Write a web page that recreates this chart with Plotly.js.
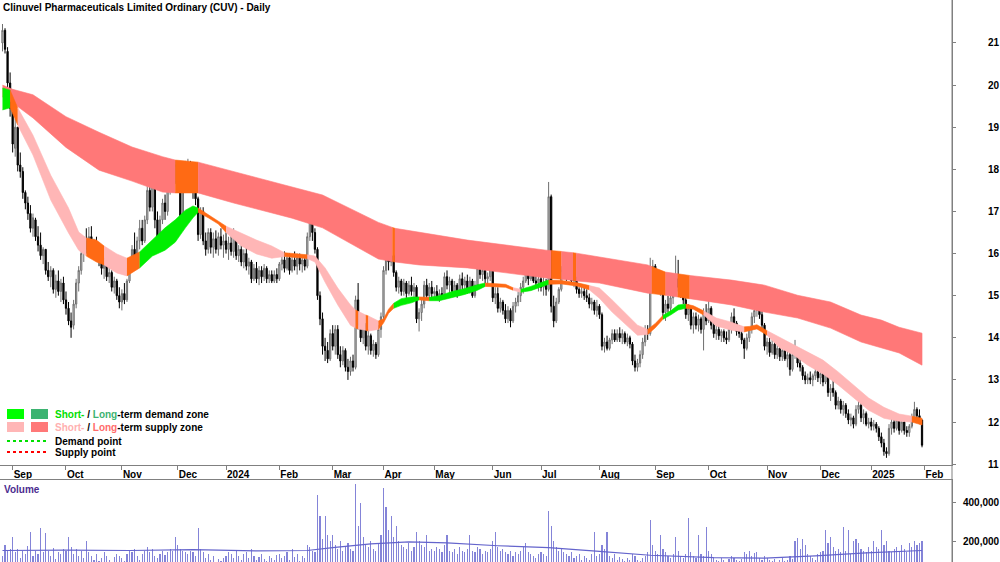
<!DOCTYPE html>
<html><head><meta charset="utf-8">
<script src="https://cdn.plot.ly/plotly-3.0.1.min.js"></script>
<style>html,body{margin:0;padding:0;background:#fff}#chart{width:1000px;height:562px}</style>
</head><body><div id="chart"></div>
<script>
// trading days per month (Aug 2023 partial ... Jan 2025)
const monthDays = [4,21,22,22,19,21,21,20,20,23,19,23,22,21,23,21,20,21];
const monthLabels = ['Sep','Oct','Nov','Dec','2024','Feb','Mar','Apr','May','Jun','Jul','Aug','Sep','Oct','Nov','Dec','2025','Feb'];

const open = [
21.00,21.30,20.80,20.05,
19.45,18.50,19.00,18.10,17.95,17.45,17.20,16.95,16.60,16.80,16.40,16.20,15.95,16.10,15.60,15.45,15.60,15.15,15.35,15.10,15.30,
14.90,14.70,14.40,14.30,14.80,15.30,15.60,16.00,16.30,16.10,16.40,16.10,16.20,16.00,15.85,15.65,15.75,15.45,15.55,15.20,15.35,15.00,
14.85,15.05,14.90,15.35,15.70,16.10,15.90,16.30,16.60,16.30,16.80,17.50,17.10,17.60,16.80,16.40,16.80,17.20,17.00,17.50,17.90,17.70,
18.10,17.80,16.90,17.80,18.05,18.15,17.80,17.45,17.30,16.45,17.00,16.30,16.10,16.50,16.15,16.35,16.10,16.40,16.20,
16.30,16.10,16.25,16.05,16.45,15.95,16.10,15.80,16.00,15.70,15.80,15.40,15.65,15.40,15.60,15.45,15.65,15.40,15.50,15.35,15.50,
15.40,15.75,15.85,15.65,15.90,15.60,15.85,15.70,15.90,15.75,15.85,15.70,16.40,16.80,16.50,16.10,15.00,14.45,13.80,13.70,13.50,
14.10,13.80,14.20,13.60,13.45,13.70,13.30,13.20,13.45,13.30,14.90,14.30,14.00,14.30,13.80,14.05,13.70,13.85,13.60,14.20,
14.50,15.60,16.10,15.80,15.95,15.55,15.20,15.35,15.10,15.30,15.05,15.25,15.10,15.20,14.45,14.60,14.80,15.25,15.00,15.20,
15.05,15.10,14.95,15.05,15.00,15.45,15.25,15.35,15.10,15.25,15.05,15.40,15.25,15.35,15.15,15.35,15.00,15.25,15.65,15.50,15.60,15.40,15.45,
15.80,14.95,15.05,14.70,14.85,14.65,14.45,14.65,14.40,14.75,14.85,15.00,15.20,15.35,15.55,15.40,15.60,15.35,15.30,
15.40,15.20,15.30,15.15,17.35,14.75,14.40,14.85,15.15,15.60,15.75,15.45,15.60,15.35,15.40,15.15,15.05,15.10,15.00,14.95,14.80,14.85,14.65,
14.75,14.55,13.80,13.90,13.75,13.95,14.10,13.95,14.10,14.00,14.10,13.90,14.00,13.85,13.45,13.30,13.40,13.60,13.90,14.20,14.10,15.60,
15.70,15.30,15.15,15.20,14.60,14.80,14.70,14.95,15.10,15.40,15.20,15.10,14.90,14.55,14.70,14.30,14.50,14.30,14.45,14.20,14.60,
14.40,14.70,14.30,14.10,14.20,14.05,14.15,14.00,13.95,14.20,14.50,14.35,14.15,14.10,13.95,13.75,14.00,14.20,14.50,14.65,14.80,14.55,14.30,
13.80,13.90,13.65,13.85,13.60,13.75,13.55,13.70,13.50,13.60,13.25,13.60,13.70,13.40,13.30,13.10,13.00,13.05,13.00,13.10,13.20,
13.05,13.15,12.95,13.20,12.70,12.80,12.70,12.40,12.50,12.30,12.40,12.20,12.05,12.10,11.95,12.30,12.40,12.10,12.20,11.95,
12.00,11.90,11.95,11.85,11.65,11.50,11.30,11.25,11.85,12.00,11.85,12.05,11.80,12.00,11.80,11.75,11.90,12.10,12.30,12.15,12.05];

const high = [
21.45,21.35,20.90,20.30,
19.60,19.20,19.00,18.40,18.05,17.50,17.35,17.15,16.95,16.85,16.65,16.50,16.15,16.10,15.80,15.70,15.65,15.50,15.60,15.40,15.45,
15.10,14.85,14.60,14.90,15.40,15.70,16.10,16.40,16.60,16.63,16.65,16.35,16.40,16.20,16.00,15.90,15.85,15.70,15.60,15.45,15.40,15.20,
15.15,15.30,15.40,15.80,16.20,16.50,16.40,16.80,16.80,16.90,17.60,17.70,17.95,17.70,17.00,16.90,17.30,17.40,17.60,18.00,18.15,18.20,
18.20,18.00,17.90,18.20,18.25,18.20,18.00,17.70,17.35,17.10,17.10,16.50,16.60,16.60,16.50,16.55,16.50,16.60,16.45,
16.50,16.40,16.45,16.60,16.50,16.20,16.20,16.10,16.15,15.90,15.85,15.75,15.80,15.70,15.70,15.75,15.70,15.60,15.60,15.60,15.65,
15.80,16.00,16.05,16.00,16.00,15.95,16.05,16.00,16.00,15.95,15.95,16.50,17.20,16.90,16.60,16.15,15.10,14.60,14.00,13.90,14.20,
14.30,14.30,14.30,13.80,13.80,13.75,13.50,13.55,13.60,15.00,15.30,14.50,14.40,14.35,14.20,14.10,13.95,13.90,14.30,14.60,
15.70,16.45,16.20,16.10,16.00,15.60,15.45,15.40,15.40,15.35,15.35,15.45,15.30,15.25,14.70,14.90,15.35,15.40,15.30,15.35,
15.20,15.25,15.15,15.20,15.55,15.60,15.45,15.40,15.35,15.30,15.50,15.55,15.45,15.50,15.45,15.40,15.35,15.75,15.90,15.70,15.65,15.55,15.90,
15.85,15.20,15.20,14.95,14.90,14.80,14.75,14.70,14.85,14.95,15.10,15.30,15.45,16.00,15.75,15.70,15.65,15.50,15.45,
15.50,15.45,15.40,17.70,17.40,15.00,14.95,15.20,15.70,15.90,15.80,15.75,15.65,15.55,15.45,15.20,15.25,15.25,15.15,15.05,14.95,14.90,14.90,
14.80,14.60,14.00,14.05,14.00,14.20,14.20,14.20,14.25,14.20,14.15,14.10,14.05,13.90,13.60,13.50,13.70,14.00,14.30,14.30,15.90,15.85,
15.75,15.40,15.30,15.25,14.90,15.00,15.10,15.20,15.95,15.85,15.30,15.20,15.00,14.80,14.75,14.60,14.60,14.55,14.50,14.70,14.80,
15.00,14.75,14.40,14.30,14.30,14.20,14.20,14.15,14.30,14.60,14.70,14.40,14.30,14.20,14.00,14.10,14.25,14.60,14.75,14.85,14.85,14.70,14.35,
14.00,14.00,13.95,13.90,13.85,13.85,13.75,13.80,13.70,13.65,13.75,13.95,13.75,13.60,13.35,13.20,13.15,13.20,13.15,13.40,13.30,
13.25,13.20,13.35,13.25,12.90,13.00,12.75,12.60,12.55,12.50,12.45,12.30,12.20,12.15,12.40,12.50,12.50,12.30,12.25,12.10,
12.10,12.05,12.00,11.90,11.75,11.60,11.40,11.95,12.10,12.10,12.15,12.15,12.10,12.05,11.90,11.95,12.20,12.48,12.35,12.30,12.05];

const low = [
20.80,20.75,19.95,19.25,
18.40,18.30,17.95,17.80,17.30,17.05,16.80,16.50,16.40,16.30,16.05,15.85,15.75,15.50,15.35,15.20,15.05,14.95,15.00,14.85,14.80,
14.55,14.30,14.00,14.20,14.70,15.10,15.50,15.80,16.00,15.95,16.00,15.85,15.90,15.70,15.50,15.40,15.35,15.30,15.10,15.05,14.90,14.70,
14.65,14.80,14.85,15.30,15.60,15.80,15.80,16.10,16.20,16.25,16.70,17.00,17.00,16.60,16.20,16.30,16.70,16.80,16.90,17.40,17.60,17.65,
17.70,16.80,16.85,17.60,17.80,17.70,17.30,17.15,16.30,16.35,16.20,15.95,16.00,16.00,15.90,16.00,15.95,16.10,15.90,
16.00,15.85,15.95,15.90,15.85,15.80,15.70,15.65,15.60,15.50,15.30,15.35,15.30,15.25,15.30,15.35,15.30,15.30,15.30,15.30,15.30,
15.35,15.60,15.55,15.60,15.50,15.55,15.60,15.50,15.60,15.55,15.60,15.65,16.30,16.30,16.00,14.90,14.30,13.60,13.45,13.40,13.45,
13.70,13.60,13.50,13.30,13.35,13.20,13.00,13.10,13.20,13.25,14.20,13.90,13.85,13.70,13.60,13.60,13.55,13.50,13.55,14.00,
14.45,15.50,15.60,15.70,15.45,15.10,15.05,15.00,15.00,14.95,15.00,15.00,14.95,14.35,14.15,14.40,14.70,14.90,14.90,14.95,
14.90,14.90,14.85,14.90,14.95,15.15,15.05,15.00,15.00,14.95,15.00,15.15,15.10,15.05,15.05,14.95,14.95,15.20,15.40,15.35,15.30,15.25,15.35,
14.85,14.80,14.60,14.60,14.55,14.35,14.35,14.25,14.35,14.60,14.75,14.85,15.05,15.30,15.25,15.35,15.30,15.20,15.10,
15.10,15.00,15.00,15.10,14.60,14.25,14.35,14.80,15.10,15.45,15.35,15.40,15.30,15.20,15.05,14.95,14.95,14.90,14.85,14.70,14.65,14.55,14.50,
14.45,13.70,13.65,13.70,13.70,13.85,13.90,13.90,13.90,13.85,13.85,13.80,13.75,13.35,13.20,13.20,13.30,13.50,13.80,13.95,14.05,15.20,
15.20,15.05,15.00,14.45,14.40,14.60,14.60,14.80,15.00,15.10,14.95,14.80,14.45,14.40,14.20,14.10,14.20,14.15,14.10,13.70,14.30,
14.35,14.20,14.00,13.95,13.95,13.90,13.90,13.85,13.90,14.10,14.25,14.05,14.00,13.85,13.50,13.70,13.90,14.10,14.35,14.50,14.45,14.20,13.70,
13.60,13.55,13.60,13.50,13.50,13.45,13.45,13.45,13.30,13.10,13.20,13.50,13.30,13.20,13.00,12.90,12.90,12.90,12.85,13.00,12.95,
12.90,12.85,12.90,12.60,12.50,12.60,12.30,12.30,12.20,12.15,12.10,11.95,11.90,11.85,11.90,12.20,12.00,11.95,11.90,11.85,
11.80,11.80,11.75,11.55,11.40,11.20,11.15,11.20,11.70,11.75,11.80,11.70,11.75,11.70,11.65,11.65,11.85,12.00,12.05,11.95,11.40];

const close = [
21.30,20.85,20.05,19.45,
18.60,19.00,18.10,17.95,17.45,17.20,16.95,16.60,16.85,16.40,16.20,15.95,16.10,15.60,15.45,15.60,15.15,15.35,15.10,15.30,14.90,
14.70,14.40,14.25,14.80,15.30,15.60,16.00,16.30,16.10,16.40,16.10,16.20,16.00,15.85,15.65,15.75,15.45,15.55,15.20,15.35,15.00,14.85,
15.05,14.90,15.35,15.70,16.10,15.90,16.30,16.60,16.30,16.80,17.50,17.10,17.60,16.80,16.40,16.80,17.20,17.00,17.50,17.90,17.70,18.10,
17.80,16.90,17.80,18.05,18.15,17.80,17.45,17.30,16.45,17.00,16.30,16.10,16.50,16.15,16.35,16.10,16.40,16.20,16.30,
16.10,16.25,16.05,16.45,15.95,16.10,15.80,16.00,15.70,15.80,15.40,15.65,15.40,15.60,15.45,15.65,15.40,15.50,15.35,15.50,15.40,
15.75,15.85,15.65,15.90,15.60,15.85,15.70,15.90,15.75,15.85,15.70,16.40,16.80,16.50,16.10,15.00,14.45,13.80,13.70,13.50,14.10,
13.80,14.20,13.60,13.45,13.70,13.30,13.20,13.45,13.30,14.90,14.30,14.00,14.30,13.80,14.05,13.70,13.85,13.60,14.20,14.50,
15.60,16.10,15.80,15.95,15.55,15.20,15.35,15.10,15.30,15.05,15.25,15.10,15.20,14.45,14.60,14.80,15.25,15.00,15.20,15.05,
15.10,14.95,15.05,15.00,15.45,15.25,15.35,15.10,15.25,15.05,15.40,15.25,15.35,15.15,15.35,15.00,15.25,15.65,15.50,15.60,15.40,15.45,15.80,
14.95,15.05,14.70,14.85,14.65,14.45,14.65,14.40,14.75,14.85,15.00,15.20,15.35,15.55,15.40,15.60,15.35,15.30,15.40,
15.20,15.30,15.15,17.35,14.75,14.40,14.85,15.15,15.60,15.75,15.45,15.60,15.35,15.40,15.15,15.05,15.10,15.00,14.95,14.80,14.85,14.65,14.75,
14.55,13.80,13.90,13.75,13.95,14.10,13.95,14.10,14.00,14.10,13.90,14.00,13.85,13.45,13.30,13.40,13.60,13.90,14.20,14.10,15.60,15.70,
15.30,15.15,15.20,14.60,14.80,14.70,14.95,15.10,15.40,15.20,15.10,14.90,14.55,14.70,14.30,14.50,14.30,14.45,14.20,14.60,14.40,
14.70,14.30,14.10,14.20,14.05,14.15,14.00,13.95,14.20,14.50,14.35,14.15,14.10,13.95,13.75,14.00,14.20,14.50,14.65,14.80,14.55,14.30,13.80,
13.90,13.65,13.85,13.60,13.75,13.55,13.70,13.50,13.60,13.25,13.60,13.70,13.40,13.30,13.10,13.00,13.05,13.00,13.10,13.20,13.05,
13.15,12.95,13.20,12.70,12.80,12.70,12.40,12.50,12.30,12.40,12.20,12.05,12.10,11.95,12.30,12.40,12.10,12.20,11.95,12.00,
11.90,11.95,11.85,11.65,11.50,11.30,11.25,11.85,12.00,11.85,12.05,11.80,12.00,11.80,11.75,11.90,12.10,12.30,12.15,12.05,11.45];

// daily volume, thousands of shares
const volumeK = [
120,180,150,160,
220,140,160,110,150,130,175,245,120,150,130,270,140,240,150,120,165,105,140,130,160,
150,220,170,130,160,120,150,110,200,140,120,100,130,95,110,140,120,100,90,115,130,120,
110,95,130,150,140,160,120,100,130,150,170,140,160,120,110,130,150,125,140,160,150,220,
180,160,150,140,130,150,140,120,270,160,140,110,130,100,120,90,105,95,110,
120,140,130,110,150,120,100,130,140,110,160,120,100,115,130,105,95,120,110,100,125,
130,110,120,140,100,160,115,130,95,120,110,180,170,150,140,440,330,210,330,230,200,
230,180,160,200,150,170,190,160,150,500,280,400,220,180,170,200,160,150,190,230,
480,380,260,330,220,280,200,180,170,160,190,150,170,250,200,180,170,230,150,160,
150,170,160,140,180,230,150,140,160,130,170,150,140,160,230,150,140,170,160,130,150,140,160,
200,250,170,150,160,140,130,150,120,140,130,150,170,190,140,130,120,110,130,
140,130,120,360,280,200,170,150,160,140,130,120,140,110,120,130,100,120,110,100,130,250,120,
130,180,160,250,120,110,130,100,115,105,95,110,100,130,120,100,95,110,120,140,310,180,
150,130,230,160,140,120,110,130,220,150,120,110,130,320,140,120,110,230,130,120,275,
150,130,110,100,95,110,100,90,105,120,110,100,95,105,140,130,145,120,135,140,110,100,120,
110,100,95,105,90,100,110,95,100,120,105,200,215,160,210,180,130,120,110,100,130,
140,150,258,190,220,170,150,160,140,275,150,258,130,200,210,190,160,150,140,170,
150,200,170,160,258,180,200,150,140,160,170,150,180,160,140,190,170,200,180,190,200];

// volume moving average (thousands), read at these trading-day positions
const volMaDay = [0,25,50,75,100,120,130,145,160,175,195,215,235,255,280,300,320,340,362];
const volMaK   = [150,152,150,155,148,150,165,185,195,190,175,165,145,125,112,110,122,138,150];

// long-term supply zone: trading-day position, upper, lower, state (r = zone, o = supply point)
const longDay   = [0,4,12,25,38,51,63,68,77,91,114,126,148,153.5,154.5,164,183,214,216,220,224.6,225.8,235,254,255.6,261,265.8,270.5,287,300,313,326,338,346,353,362];
const longUpper = [20.00,19.90,19.77,19.25,18.88,18.53,18.30,18.22,18.17,17.94,17.58,17.39,16.74,16.62,16.60,16.51,16.32,16.08,16.07,16.05,16.02,16.01,15.92,15.73,15.69,15.56,15.52,15.48,15.37,15.25,15.01,14.85,14.54,14.42,14.25,14.11];
const longLower = [19.72,19.58,19.22,18.52,17.98,17.72,17.46,17.44,17.44,17.20,16.84,16.61,15.87,15.81,15.80,15.73,15.66,15.42,15.41,15.39,15.36,15.35,15.30,15.06,15.05,15.01,14.97,14.93,14.78,14.61,14.47,14.23,13.90,13.76,13.64,13.35];
const longState = ['r','r','r','r','r','r','r','o','r','r','r','r','r','o','r','r','r','r','o','r','o','r','r','r','o','r','o','r','r','r','r','r','r','r','r','r'];

// short-term zone: p = supply, g = demand, o = transition
const shortDay   = [0,3,6,12,19,26,30,33,37,40,45,49,54,59,64,68,72,75,77,81,85,88,94,100,106,111,120,123,127,132,137,139,140,143,144,148,150,152,154,157,161,164,168,172,177,182,187,190,198,201,204,208,212,215,220,226,231,235,240,245,250,254,257,260,263,266,269,272,276,281,287,292,294,297,301,306,311,317,323,329,335,341,347,353,358,362];
const shortUpper = [19.93,19.88,19.46,18.81,17.86,17.08,16.51,16.37,16.32,16.18,15.99,15.89,16.04,16.32,16.61,16.80,17.03,17.13,17.08,16.93,16.78,16.65,16.49,16.32,16.18,16.02,15.97,15.94,15.66,15.18,14.78,14.66,14.63,14.54,14.52,14.40,14.45,14.68,14.82,14.93,14.97,14.97,14.96,15.00,15.10,15.17,15.26,15.30,15.27,15.19,15.15,15.22,15.31,15.37,15.36,15.31,15.24,15.18,14.90,14.61,14.30,14.20,14.34,14.53,14.64,14.78,14.80,14.76,14.64,14.47,14.37,14.26,14.27,14.31,14.17,14.00,13.85,13.66,13.47,13.19,12.88,12.57,12.35,12.19,12.14,12.09];
const shortLower = [19.41,19.46,19.05,18.34,17.27,16.49,16.08,15.94,15.80,15.73,15.54,15.47,15.66,15.94,16.08,16.27,16.61,16.85,16.98,16.85,16.70,16.50,16.18,15.99,15.89,15.93,15.88,15.80,15.32,14.78,14.30,14.23,14.21,14.18,14.16,14.20,14.35,14.58,14.70,14.77,14.83,14.90,14.88,14.88,14.96,15.03,15.13,15.22,15.20,15.13,15.08,15.12,15.20,15.27,15.28,15.23,15.14,14.94,14.61,14.33,14.06,14.08,14.24,14.44,14.54,14.66,14.70,14.68,14.54,14.28,14.18,14.14,14.17,14.21,14.06,13.76,13.61,13.35,13.14,12.88,12.57,12.28,12.09,12.02,12.00,11.93];
const shortState = ['g','o','p','p','p','p','p','o','o','p','p','o','g','g','g','g','g','g','o','o','o','p','p','p','p','o','p','p','p','p','p','o','p','o','p','o','o','o','g','g','g','o','g','g','g','g','g','o','o','p','g','g','g','o','o','o','p','p','p','p','p','o','o','g','g','g','o','o','p','p','p','o','o','o','p','p','p','p','p','p','p','p','p','p','o','o'];

const colors = {r:'#FF7878', o:'#FF6A14', p:'#FFB6B6', g:'#00EE00'};

const W = 952, H = 562;
const px = v => v / W, py = v => 1 - v / H;

function bandTraces(day, up, lo, st) {
  const out = [];
  let a = 0;
  while (a < day.length - 1) {
    let b = a + 1;
    while (b < day.length - 1 && st[b] === st[a]) b++;
    const xs = day.slice(a, b + 1), us = up.slice(a, b + 1), ls = lo.slice(a, b + 1);
    const c = colors[st[a]];
    out.push({type:'scatter', mode:'lines', x: xs.concat(xs.slice().reverse()),
      y: us.concat(ls.slice().reverse()), fill:'toself', fillcolor:c,
      line:{color:c, width:0.6}, hoverinfo:'skip', showlegend:false, xaxis:'x', yaxis:'y'});
    a = b;
  }
  return out;
}

const days = close.map((_, i) => i);
const tickPos = []; let acc = 0;
for (let k = 0; k < monthLabels.length; k++) { acc += monthDays[k]; tickPos.push(acc); }

const traces = [];
traces.push(...bandTraces(longDay, longUpper, longLower, longState));
traces.push(...bandTraces(shortDay, shortUpper, shortLower, shortState));
traces.push({type:'candlestick', x: days, open, high, low, close, xaxis:'x', yaxis:'y',
  whiskerwidth:0, showlegend:false, hoverinfo:'skip',
  increasing:{line:{color:'#6e6e6e', width:1}, fillcolor:'#cfcfcf'},
  decreasing:{line:{color:'#000000', width:1}, fillcolor:'#000000'}});
traces.push({type:'bar', x: days, y: volumeK.map(v => v * 1000), xaxis:'x2', yaxis:'y2',
  width:0.45, marker:{color:'#8484D8', line:{width:0}}, showlegend:false, hoverinfo:'skip'});
traces.push({type:'scatter', mode:'lines', x: volMaDay, y: volMaK.map(v => v * 1000), xaxis:'x2', yaxis:'y2',
  line:{color:'#6464CC', width:1.2}, showlegend:false, hoverinfo:'skip'});

const F = 'Liberation Sans, Arial, sans-serif';
const xr = [-0.98, 373.8];
const font10 = {family:F, size:10, color:'#000', weight:'bold'};

const layout = {
  width:1000, height:562, margin:{l:0, r:48, t:0, b:0},
  paper_bgcolor:'#fff', plot_bgcolor:'#fff', showlegend:false, hovermode:false,
  bargap:0,
  xaxis:{type:'linear', range:xr, domain:[0,1], anchor:'y', rangeslider:{visible:false},
    showgrid:false, zeroline:false, showline:true, linecolor:'#808080', linewidth:1,
    ticks:'outside', ticklen:4, tickcolor:'#808080', tickvals:tickPos, ticktext:monthLabels,
    ticklabelposition:'outside right', tickfont:font10},
  yaxis:{domain:[py(465),1], range:[10.98, 22.02], side:'right', anchor:'x',
    showgrid:false, zeroline:false, showline:true, linecolor:'#808080', linewidth:1,
    ticks:'outside', ticklen:3, tickcolor:'#808080', tickvals:[11,12,13,14,15,16,17,18,19,20,21],
    tickfont:font10, ticklabelstandoff:30},
  xaxis2:{type:'linear', range:xr, domain:[0,1], anchor:'y2', side:'top', matches:'x',
    showgrid:false, zeroline:false, showline:true, linecolor:'#808080', linewidth:1,
    ticks:'', showticklabels:false},
  yaxis2:{domain:[0, py(480)], range:[89500, 521000], side:'right', anchor:'x2',
    showgrid:false, zeroline:false, showline:true, linecolor:'#808080', linewidth:1,
    ticks:'outside', ticklen:3, tickcolor:'#808080', tickvals:[200000,400000],
    ticktext:['200,000','400,000'], tickfont:font10, ticklabelstandoff:5},
  shapes:[
    {type:'line', xref:'paper', yref:'paper', x0:1, x1:1, y0:0, y1:1, line:{color:'#808080', width:1}},
    {type:'rect', xref:'paper', yref:'paper', x0:px(7), x1:px(24), y0:py(419), y1:py(409), fillcolor:'#00FF00', line:{width:0}},
    {type:'rect', xref:'paper', yref:'paper', x0:px(31), x1:px(48), y0:py(419), y1:py(409), fillcolor:'#3CB371', line:{width:0}},
    {type:'rect', xref:'paper', yref:'paper', x0:px(7), x1:px(24), y0:py(432), y1:py(422), fillcolor:'#FFB6B6', line:{width:0}},
    {type:'rect', xref:'paper', yref:'paper', x0:px(31), x1:px(48), y0:py(432), y1:py(422), fillcolor:'#FF7878', line:{width:0}},
    {type:'line', xref:'paper', yref:'paper', x0:px(7), x1:px(48), y0:py(441), y1:py(441), line:{color:'#00E000', width:2, dash:'dot'}},
    {type:'line', xref:'paper', yref:'paper', x0:px(7), x1:px(48), y0:py(452), y1:py(452), line:{color:'#FF0000', width:2, dash:'dot'}}
  ],
  annotations:[
    {xref:'paper', yref:'paper', x:px(1), y:py(7), xanchor:'left', yanchor:'middle', showarrow:false,
      text:'Clinuvel Pharmaceuticals Limited Ordinary (CUV) - Daily', font:font10},
    {xref:'paper', yref:'paper', x:px(53), y:py(414), xanchor:'left', yanchor:'middle', showarrow:false, font:font10,
      text:'<span style="color:#00E000">Short-</span> / <span style="color:#3CB371">Long</span>-term demand zone'},
    {xref:'paper', yref:'paper', x:px(53), y:py(427), xanchor:'left', yanchor:'middle', showarrow:false, font:font10,
      text:'<span style="color:#FFB0B0">Short-</span> / <span style="color:#FF6B6B">Long</span>-term supply zone'},
    {xref:'paper', yref:'paper', x:px(53), y:py(441), xanchor:'left', yanchor:'middle', showarrow:false, font:font10, text:'Demand point'},
    {xref:'paper', yref:'paper', x:px(53), y:py(452), xanchor:'left', yanchor:'middle', showarrow:false, font:font10, text:'Supply point'},
    {xref:'paper', yref:'paper', x:px(2), y:py(489), xanchor:'left', yanchor:'middle', showarrow:false,
      font:{family:F, size:10, color:'#4B2C8F', weight:'bold'}, text:'Volume'}
  ]
};

Plotly.newPlot('chart', traces, layout, {displayModeBar:false, staticPlot:true});
</script>
</body></html>
